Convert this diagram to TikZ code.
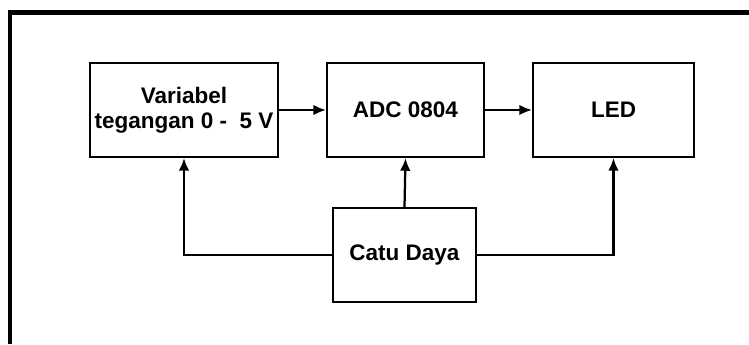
\documentclass[tikz,border=0pt]{standalone}
\usepackage{fontspec}
\setmainfont{Liberation Sans}
\usetikzlibrary{arrows.meta}

\begin{document}
\begin{tikzpicture}[font=\fontsize{16pt}{17.8pt}\selectfont\bfseries,
    >={Latex[length=9pt,width=7.5pt]},x=0.025cm,y=-0.025cm]
    \tikzset{
        block/.style={
            draw,line width=1.5pt,
            minimum width=#1,minimum height=2.35cm,align=center,
            inner sep=0pt
        },
        flow/.style={->,line width=1.6pt},
        frame/.style={line width=3.4pt}
    }

    \useasboundingbox (0,0) rectangle (749,344);
    \draw[frame] (10,344) -- (10,12.5) -- (749,12.5);

    \node[block=4.7cm] (var) at (184,110) {Variabel\\tegangan 0 -\ \ 5 V};
    \node[block=3.92cm] (adc) at (405.5,110) {ADC 0804};
    \node[block=4.02cm] (led) at (613.5,110) {LED};
    \node[block=3.57cm] (catu) at (404.5,255) {Catu Daya};

    \draw[flow] (var.east) -- (adc.west);
    \draw[flow] (adc.east) -- (led.west);
    \draw[flow] (catu.north) -- (adc.south);
    \foreach \s/\n in {west/var,east/led}{
        \draw[flow] (catu.\s) -| (\n.south);
    }
\end{tikzpicture}
\end{document}
